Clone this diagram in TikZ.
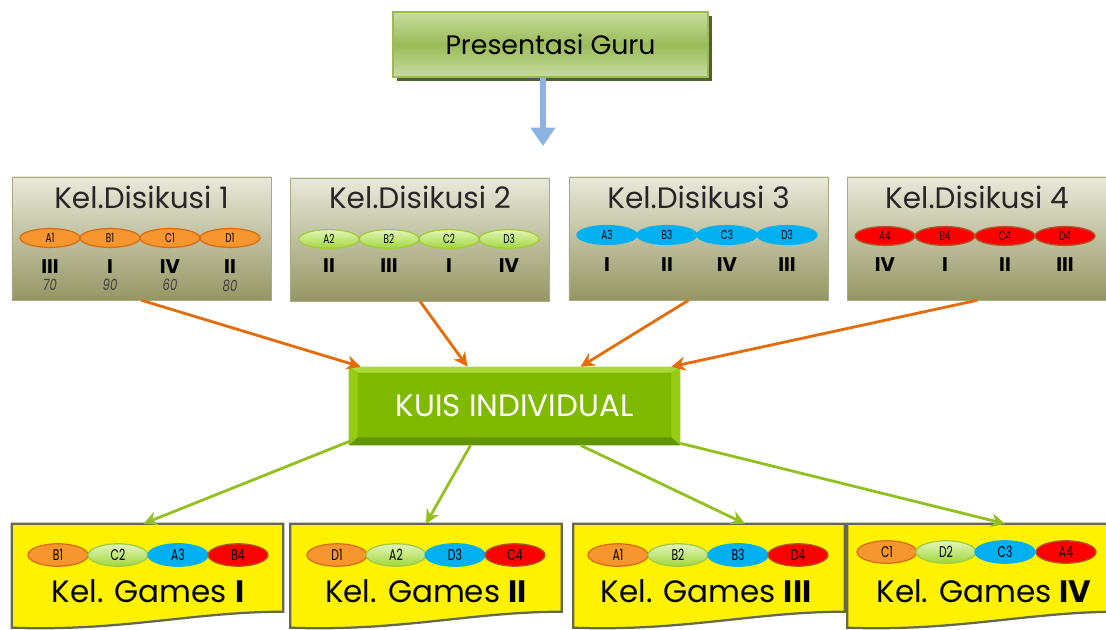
\documentclass[tikz,border=0pt]{standalone}
\usepackage{graphicx}
\usepackage{fontspec}
\setmainfont{Poppins}
\usepackage{tikz}
\usetikzlibrary{positioning,calc,arrows.meta,shapes.geometric,shadows}
\definecolor{olivetop}{RGB}{232,233,218}
\definecolor{olivebot}{RGB}{150,150,100}
\definecolor{oliveline}{RGB}{170,170,130}
\definecolor{guru}{RGB}{155,187,89}
\definecolor{gurulight}{RGB}{200,220,160}
\definecolor{gurushadow}{RGB}{79,98,40}
\definecolor{kuis}{RGB}{128,186,0}
\definecolor{kuistop}{RGB}{170,218,60}
\definecolor{kuisside}{RGB}{150,204,20}
\definecolor{kuisbot}{RGB}{96,150,0}
\definecolor{orangefill}{RGB}{247,150,46}
\definecolor{orangeline}{RGB}{214,110,20}
\definecolor{greentop}{RGB}{228,246,186}
\definecolor{greenbot}{RGB}{160,214,60}
\definecolor{greenline}{RGB}{160,204,60}
\definecolor{bluefill}{RGB}{0,176,240}
\definecolor{redfill}{RGB}{255,0,0}
\definecolor{redline}{RGB}{170,90,40}
\definecolor{arroworange}{RGB}{228,108,10}
\definecolor{arrowgreen}{RGB}{146,192,32}
\definecolor{arrowblue}{RGB}{141,179,226}
\definecolor{gamesline}{RGB}{100,104,76}
\newcommand{\chiplabel}[1]{\scalebox{0.7}[1]{#1}}

\begin{document}
\begin{tikzpicture}[x=0.025cm,y=-0.025cm,
  diskbox/.style={draw=oliveline, top color=olivetop, bottom color=olivebot,
    minimum width=6.475cm, minimum height=3.075cm, inner sep=0pt},
  disktitle/.style={font=\fontsize{21}{21}\selectfont, text=black!85},
  chip/.style={ellipse, line width=0.9pt, minimum width=1.5cm, minimum height=0.47cm,
    inner sep=0pt, font=\fontsize{9}{9}\selectfont},
  chipbig/.style={chip, minimum height=0.56cm, font=\fontsize{11}{11}\selectfont},
  orangechip/.style={draw=orangeline, fill=orangefill},
  greenchip/.style={draw=greenline, top color=greentop, bottom color=greenbot},
  bluechip/.style={draw=bluefill, fill=bluefill},
  redchip/.style={draw=redline, fill=redfill},
  numeral/.style={font=\fontsize{14}{14}\bfseries\selectfont, inner sep=1pt},
  score/.style={font=\fontsize{11}{11}\itshape\selectfont, text=black!75, inner sep=0pt},
  gamebox/.style={minimum width=6.775cm, minimum height=2.6cm, inner sep=0pt},
  gameshape/.style={draw=gamesline, line width=1.6pt, fill=yellow},
  gametitle/.style={font=\fontsize{22}{22}\selectfont, text=black},
  toquiz/.style={draw=arroworange, line width=2pt, -{Stealth[length=10pt,width=10pt]}},
  togame/.style={draw=arrowgreen, line width=2pt, -{Stealth[length=10pt,width=10pt]}}]
\useasboundingbox (0,0) rectangle (1106,630);

% teacher presentation
\node[draw=guru, line width=1pt, top color=gurulight, bottom color=gurulight, middle color=guru,
  minimum width=7.875cm, minimum height=1.625cm,
  drop shadow={shadow xshift=0.11cm, shadow yshift=-0.11cm, fill=gurushadow, opacity=1},
  font=\fontsize{19}{19}\selectfont] (guru) at (550.5,44.5) {Presentasi Guru};
\coordinate (gurutip) at (543,146);
\draw[arrowblue, line width=4.5pt, -{Triangle[length=13pt,width=17pt]}] (guru.south -| gurutip) -- (gurutip);

% discussion groups
\node[diskbox] (d1) at (141.5,238.5) {};
\node[diskbox] (d2) at (420,239.5) {};
\node[diskbox] (d3) at (698.5,238.5) {};
\node[diskbox] (d4) at (977,238.5) {};
\node[disktitle] at (141.5,197) {Kel.Disikusi 1};
\node[disktitle] at (420,197) {Kel.Disikusi 2};
\node[disktitle] at (698.5,197) {Kel.Disikusi 3};
\node[disktitle] at (977,197) {Kel.Disikusi 4};

\foreach \lab/\px [count=\i] in {A1/50,B1/110,C1/170,D1/230}
  \node[chip, orangechip] (d1c\i) at (\px,238) {\chiplabel{\lab}};
\foreach \lab/\px [count=\i] in {A2/329,B2/389,C2/449,D3/509}
  \node[chip, greenchip] (d2c\i) at (\px,239) {\chiplabel{\lab}};
\foreach \lab/\px [count=\i] in {A3/607,B3/667,C3/727,D3/787}
  \node[chip, bluechip] (d3c\i) at (\px,235) {\chiplabel{\lab}};
\foreach \lab/\px [count=\i] in {A4/885,B4/945,C4/1005,D4/1065}
  \node[chip, redchip] (d4c\i) at (\px,236) {\chiplabel{\lab}};

\foreach \r [count=\i] in {III,I,IV,II}
  \node[numeral, below=7pt of d1c\i] (d1r\i) {\r};
\foreach \r [count=\i] in {II,III,I,IV}
  \node[numeral, below=6pt of d2c\i] (d2r\i) {\r};
\foreach \r [count=\i] in {I,II,IV,III}
  \node[numeral, below=8pt of d3c\i] (d3r\i) {\r};
\foreach \r [count=\i] in {IV,I,II,III}
  \node[numeral, below=7pt of d4c\i] (d4r\i) {\r};
\foreach \s [count=\i] in {70,90,60,80}
  \node[score, below=3pt of d1r\i] {\scalebox{0.75}[1]{\s}};

% individual quiz
\node[fill=kuis, minimum width=8.275cm, minimum height=1.95cm, inner sep=0pt,
  font=\fontsize{22}{22}\selectfont, text=white] (kuis) at (514.5,406) {KUIS INDIVIDUAL};
\fill[kuistop] (kuis.north west) -- (kuis.north east) -- ($(kuis.north east)+(-9,6)$) -- ($(kuis.north west)+(9,6)$) -- cycle;
\fill[kuisside] (kuis.north west) -- ($(kuis.north west)+(9,6)$) -- ($(kuis.south west)+(9,-8)$) -- (kuis.south west) -- cycle;
\fill[kuisside] (kuis.north east) -- ($(kuis.north east)+(-9,6)$) -- ($(kuis.south east)+(-9,-8)$) -- (kuis.south east) -- cycle;
\fill[kuisbot] (kuis.south west) -- (kuis.south east) -- ($(kuis.south east)+(-9,-8)$) -- ($(kuis.south west)+(9,-8)$) -- cycle;

\draw[toquiz] (d1.south) -- ($(kuis.north west)+(12,0)$);
\draw[toquiz] (d2.south) -- ($(kuis.north)+(-47,0)$);
\draw[toquiz] ($(d3.south)+(-10,0)$) -- ($(kuis.north)+(66,0)$);
\draw[toquiz] (d4.south) -- ($(kuis.north east)+(-9,0)$);

% game groups
\node[gamebox] (g1) at (147.5,576) {};
\node[gamebox] (g2) at (426,576) {};
\node[gamebox] (g3) at (709,576) {};
\node[gamebox] (g4) at (983,576) {};
\foreach \g in {g1,g2,g3,g4}
  \draw[gameshape] (\g.north west) -- (\g.north east) -- ($(\g.north east)+(0,88)$)
    .. controls ($(\g.north east)+(-90,88)$) and ($(\g.north west)+(110,108)$) .. ($(\g.north west)+(0,104)$) -- cycle;

\foreach \lab/\px/\st [count=\i] in {B1/58/orangechip,C2/118/greenchip,A3/178/bluechip,B4/238/redchip}
  \node[chipbig, \st] (g1c\i) at (\px,555) {\chiplabel{\lab}};
\foreach \lab/\px/\st [count=\i] in {D1/337/orangechip,A2/396/greenchip,D3/455/bluechip,C4/515/redchip}
  \node[chipbig, \st] (g2c\i) at (\px,555) {\chiplabel{\lab}};
\foreach \lab/\px/\st [count=\i] in {A1/618/orangechip,B2/678/greenchip,B3/738/bluechip,D4/798/redchip}
  \node[chipbig, \st] (g3c\i) at (\px,555) {\chiplabel{\lab}};
\foreach \lab/\px/\st [count=\i] in {C1/887/orangechip,D2/946/greenchip,C3/1005/bluechip,A4/1066/redchip}
  \node[chipbig, \st] (g4c\i) at (\px,552) {\chiplabel{\lab}};

\node[gametitle] at (148,591) {Kel. Games \textbf{I}};
\node[gametitle] at (426,591) {Kel. Games \textbf{II}};
\node[gametitle] at (706,591) {Kel. Games \textbf{III}};
\node[gametitle] at (984,591) {Kel. Games \textbf{IV}};

\draw[togame] ($(kuis.south west)+(6,-6)$) -- ($(g1.north)+(-4,0)$);
\draw[togame] ($(kuis.south)+(-44,0)$) -- (g2.north);
\draw[togame] ($(kuis.south)+(66,0)$) -- ($(g3.north)+(36,0)$);
\draw[togame] ($(kuis.south east)+(0,-2)$) -- ($(g4.north)+(22,0)$);
\end{tikzpicture}
\end{document}
